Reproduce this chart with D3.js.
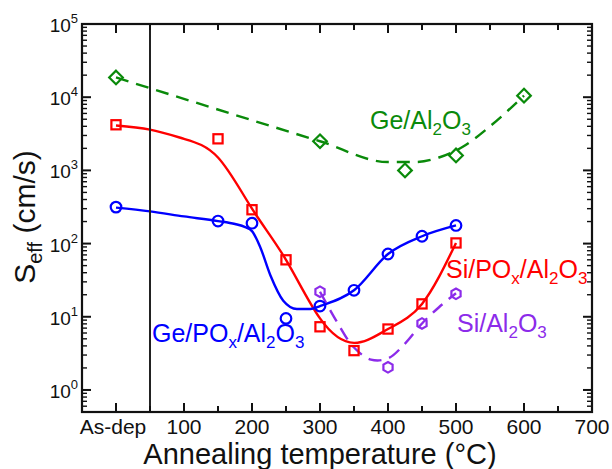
<!DOCTYPE html>
<html><head><meta charset="utf-8">
<script src="https://cdn.jsdelivr.net/npm/d3@7"></script>
<style>body{margin:0;background:#fff} svg text{font-family:"Liberation Sans",Arial,sans-serif}</style>
</head><body><svg id="c" width="612" height="469"></svg>
<script>
// ---------- data ----------
const xTickValues = [0,100,200,300,400,500,600,700];
const xTickLabels = ["As-dep","100","200","300","400","500","600","700"];
const xMinorTicks = [50,150,250,350,450,550,650];
const yTickExponents = [0,1,2,3,4,5];
const dividerTemp = 50;

// Ge/Al2O3 (green diamonds, dashed)
const geAlTemps = [0,300,425,500,600];
const geAlS     = [18600,2500,1000,1600,10500];
const geAlFitTemps = [0,300,400,440,475,510,550,600];
const geAlFitS     = [18600,2500,1300,1300,1500,2100,4000,10500];

// Si/POx/Al2O3 (red squares, solid)
const siPoTemps = [0,150,200,250,300,350,400,450,500];
const siPoS     = [4200,2700,290,60,7.3,3.45,6.8,15,102];
const siPoFitTemps = [0,50,100,150,200,250,300,350,400,450,500];
const siPoFitS     = [4100,3600,2700,1500,300,60,9.5,4.4,6.8,15,102];

// Ge/POx/Al2O3 (blue circles, solid)
const gePoTemps = [0,150,200,250,300,350,400,450,500];
const gePoS     = [315,203,190,9.5,14,23,72,126,177];
const gePoFitTemps = [0,50,100,150,175,190,200,212,227,246,266,286,300,350,400,450,500];
const gePoFitS     = [310,275,235,203,185,168,148,90,37,16.6,12.8,12.8,14,23,72,126,177];

// Si/Al2O3 (purple hexagons, dashed)
const siAlTemps = [300,400,450,500];
const siAlS     = [22,2.04,8.1,20.6];
const siAlFitTemps = [300,325,350,375,400,425,450,475,500];
const siAlFitS     = [22,8.5,3.8,2.6,2.7,4.3,8.1,13.5,21];

// ---------- chart ----------
const svg = d3.select("#c");
const L=82, R=592, T=24, B=412;
const x = d3.scaleLinear().domain([-50,700]).range([L,R]);
const y = d3.scaleLog().domain([0.5,1e5]).range([B,T]);

const GREEN="#0a8a0a", RED="#ff0000", BLUE="#0000ff", PURPLE="#8c2bea";

svg.append("rect").attr("width",612).attr("height",469).attr("fill","#fff");

const zip=(a,b)=>a.map((v,i)=>[v,b[i]]);
const line = d3.line().x(d=>x(d[0])).y(d=>y(d[1]));

function fitLine(tx, sv, color, dash, curve){
  svg.append("path").datum(zip(tx,sv))
    .attr("d", line.curve(curve)(zip(tx,sv)))
    .attr("fill","none").attr("stroke",color).attr("stroke-width",2.4)
    .attr("stroke-dasharray", dash||null);
}
fitLine(geAlFitTemps, geAlFitS, GREEN, "13,8", d3.curveMonotoneX);
fitLine(siPoFitTemps, siPoFitS, RED, null, d3.curveNatural);
fitLine(gePoFitTemps, gePoFitS, BLUE, null, d3.curveMonotoneX);
fitLine(siAlFitTemps, siAlFitS, PURPLE, "13,8", d3.curveCatmullRom);

// markers
function hexPath(r){
  const p=[];
  for(let k=0;k<6;k++){const a=Math.PI/2+k*Math.PI/3;p.push([r*Math.cos(a),r*Math.sin(a)]);}
  return "M"+p.map(q=>q.join(",")).join("L")+"Z";
}
function markers(tx, sv, color, type){
  const g=svg.append("g");
  zip(tx,sv).forEach(d=>{
    const cx=x(d[0]), cy=y(d[1]);
    let el;
    if(type==="circle") el=g.append("circle").attr("cx",cx).attr("cy",cy).attr("r",5.3);
    else if(type==="square") el=g.append("rect").attr("x",cx-4.6).attr("y",cy-4.6).attr("width",9.2).attr("height",9.2);
    else if(type==="diamond") el=g.append("path").attr("d",`M${cx},${cy-6.8}L${cx+6.8},${cy}L${cx},${cy+6.8}L${cx-6.8},${cy}Z`);
    else el=g.append("path").attr("d",hexPath(5.3)).attr("transform",`translate(${cx},${cy})`);
    el.attr("fill","none").attr("stroke",color).attr("stroke-width",2.2);
  });
}
markers(geAlTemps, geAlS, GREEN, "diamond");
markers(siPoTemps, siPoS, RED, "square");
markers(gePoTemps, gePoS, BLUE, "circle");
markers(siAlTemps, siAlS, PURPLE, "hex");

// divider line
svg.append("line").attr("x1",x(dividerTemp)).attr("x2",x(dividerTemp)).attr("y1",T).attr("y2",B)
  .attr("stroke","#222").attr("stroke-width",2);

// ticks
const tk=svg.append("g").attr("stroke","#111").attr("stroke-width",2);
xTickValues.forEach(v=>{
  tk.append("line").attr("x1",x(v)).attr("x2",x(v)).attr("y1",B).attr("y2",B-9);
  tk.append("line").attr("x1",x(v)).attr("x2",x(v)).attr("y1",T).attr("y2",T+9);
});
xMinorTicks.forEach(v=>{
  tk.append("line").attr("x1",x(v)).attr("x2",x(v)).attr("y1",B).attr("y2",B-6);
  tk.append("line").attr("x1",x(v)).attr("x2",x(v)).attr("y1",T).attr("y2",T+6);
});
yTickExponents.forEach(e=>{
  const v=Math.pow(10,e);
  tk.append("line").attr("x1",L).attr("x2",L+9).attr("y1",y(v)).attr("y2",y(v));
  tk.append("line").attr("x1",R).attr("x2",R-9).attr("y1",y(v)).attr("y2",y(v));
});
const minorVals=[];
for(let e=-1;e<5;e++) for(let k=2;k<10;k++){const v=k*Math.pow(10,e); if(v>=0.5&&v<1e5) minorVals.push(v);}
const tkm=svg.append("g").attr("stroke","#111").attr("stroke-width",1.4);
minorVals.forEach(v=>{
  tkm.append("line").attr("x1",L).attr("x2",L+5).attr("y1",y(v)).attr("y2",y(v));
  tkm.append("line").attr("x1",R).attr("x2",R-5).attr("y1",y(v)).attr("y2",y(v));
});

// frame
svg.append("rect").attr("x",L).attr("y",T).attr("width",R-L).attr("height",B-T)
  .attr("fill","none").attr("stroke","#111").attr("stroke-width",2.2);

// x tick labels
xTickValues.forEach((v,i)=>{
  svg.append("text").attr("x",x(v)-(i===0?3:0)).attr("y",434).attr("text-anchor","middle")
    .attr("font-size",21).attr("fill","#111").text(xTickLabels[i]);
});
// y tick labels
yTickExponents.forEach(e=>{
  const t=svg.append("text").attr("x",78).attr("y",y(Math.pow(10,e))+8).attr("text-anchor","end")
    .attr("font-size",19).attr("fill","#111");
  t.append("tspan").text("10");
  t.append("tspan").attr("font-size",13).attr("dy",-9).text(String(e));
});

// axis titles
svg.append("text").attr("x",320).attr("y",464).attr("text-anchor","middle")
  .attr("font-size",29).attr("fill","#111").text("Annealing temperature (°C)");
const yt=svg.append("text").attr("transform","translate(35,217) rotate(-90)").attr("text-anchor","middle")
  .attr("font-size",30).attr("fill","#111");
yt.append("tspan").text("S");
yt.append("tspan").attr("font-size",20).attr("dy",7).text("eff");
yt.append("tspan").attr("dy",-7).text(" (cm/s)");

// series labels with subscripts
function label(xp, yp, parts, color){
  const t=svg.append("text").attr("x",xp).attr("y",yp).attr("font-size",25).attr("fill",color);
  let sub=false;
  parts.forEach(p=>{
    const isSub=p.startsWith("_");
    const s=t.append("tspan").text(isSub?p.slice(1):p);
    if(isSub){ s.attr("font-size",17).attr("dy",sub?0:6); sub=true; }
    else { if(sub) s.attr("dy",-6); sub=false; }
  });
}
label(370,129,["Ge/Al","_2","O","_3"],GREEN);
label(446,278,["Si/PO","_x","/Al","_2","O","_3"],RED);
label(152,342,["Ge/PO","_x","/Al","_2","O","_3"],BLUE);
label(457,332,["Si/Al","_2","O","_3"],PURPLE);
</script></body></html>
